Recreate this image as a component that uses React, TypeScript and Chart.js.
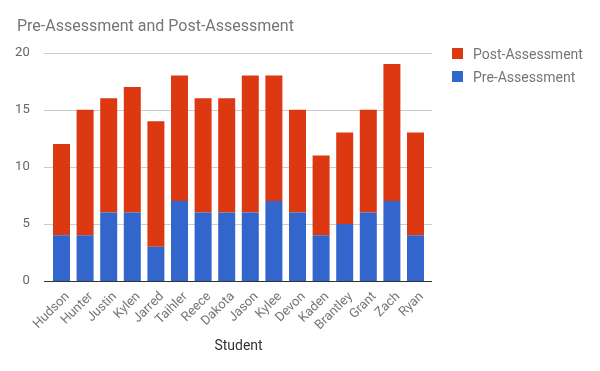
import React, { useEffect, useRef } from "react";
import { Chart, registerables } from "chart.js";

Chart.register(...registerables);

const students = ["Hudson", "Hunter", "Justin", "Kylen", "Jarred", "Taihler", "Reece", "Dakota", "Jason", "Kylee", "Devon", "Kaden", "Brantley", "Grant", "Zach", "Ryan"];
const preAssessment = [4, 4, 6, 6, 3, 7, 6, 6, 6, 7, 6, 4, 5, 6, 7, 4];
const postAssessment = [8, 11, 10, 11, 11, 11, 10, 10, 12, 11, 9, 7, 8, 9, 12, 9];
const yTicks = [0, 5, 10, 15, 20];
const titleText = "Pre-Assessment and Post-Assessment";
const xTitleText = "Student";

const RED = "#dc3912";
const BLUE = "#3366cc";
const FONT = "Roboto";

const decorPlugin = {
  id: "decor",
  beforeDatasetsDraw(chart: any) {
    const ctx = chart.ctx;
    const y = chart.scales.y;
    ctx.save();
    ctx.strokeStyle = "#cccccc";
    ctx.lineWidth = 1;
    yTicks.forEach((t) => {
      if (t === 0) return;
      const py = Math.round(y.getPixelForValue(t)) + 0.5;
      ctx.beginPath();
      ctx.moveTo(44, py);
      ctx.lineTo(432, py);
      ctx.stroke();
    });
    ctx.restore();
  },
  afterDatasetsDraw(chart: any) {
    const ctx = chart.ctx;
    const y = chart.scales.y;
    ctx.save();
    ctx.strokeStyle = "#333333";
    ctx.lineWidth = 1;
    const py = Math.round(y.getPixelForValue(0)) + 0.5;
    ctx.beginPath();
    ctx.moveTo(44, py);
    ctx.lineTo(432, py);
    ctx.stroke();

    // title
    ctx.fillStyle = "#757575";
    ctx.font = `16px ${FONT}`;
    ctx.textAlign = "left";
    ctx.textBaseline = "alphabetic";
    ctx.fillText(titleText, 17, 31);

    // legend
    ctx.font = `14px ${FONT}`;
    ctx.fillStyle = RED;
    ctx.fillRect(452, 48, 11, 11);
    ctx.fillStyle = BLUE;
    ctx.fillRect(452, 71, 11, 11);
    ctx.fillStyle = "#757575";
    ctx.fillText("Post-Assessment", 473, 58.5);
    ctx.fillText("Pre-Assessment", 473, 81.5);

    // x axis title
    ctx.fillStyle = "#333333";
    ctx.textAlign = "center";
    ctx.fillText(xTitleText, (chart.chartArea.left + chart.chartArea.right) / 2, 350);
    ctx.restore();
  },
};

export default function App() {
  const ref = useRef<HTMLCanvasElement | null>(null);
  useEffect(() => {
    if (!ref.current) return;
    const chart = new Chart(ref.current, {
      type: "bar",
      data: {
        labels: students,
        datasets: [
          { label: "Pre-Assessment", data: preAssessment, backgroundColor: BLUE, borderWidth: 0 },
          { label: "Post-Assessment", data: postAssessment, backgroundColor: RED, borderWidth: 0 },
        ],
      },
      options: {
        animation: false,
        responsive: false,
        maintainAspectRatio: false,
        layout: { padding: { top: 52.7, right: 172.7, bottom: 0, left: 0 } },
        plugins: {
          legend: { display: false },
          title: { display: false },
          tooltip: { enabled: false },
        },
        scales: {
          x: {
            stacked: true,
            categoryPercentage: 1,
            barPercentage: 0.64,
            grid: { display: false },
            border: { display: false },
            ticks: {
              autoSkip: false,
              maxRotation: 45,
              minRotation: 45,
              color: "#757575",
              font: { family: FONT, size: 13 },
              padding: 0,
              labelOffset: 6,
            },
            afterFit: (s: any) => {
              s.height = 90;
            },
          },
          y: {
            stacked: true,
            min: 0,
            max: 20,
            grid: { display: false },
            border: { display: false },
            ticks: {
              stepSize: 5,
              color: "#666666",
              font: { family: FONT, size: 13 },
              padding: 12,
            },
            afterFit: (s: any) => {
              s.width = 49.7;
            },
          },
        },
      },
      plugins: [decorPlugin],
    } as any);
    return () => chart.destroy();
  }, []);
  return (
    <div style={{ position: "fixed", left: 0, top: 0, width: 600, height: 371, background: "#fff" }}>
      <canvas ref={ref} width={600} height={371} style={{ width: 600, height: 371 }} />
    </div>
  );
}
